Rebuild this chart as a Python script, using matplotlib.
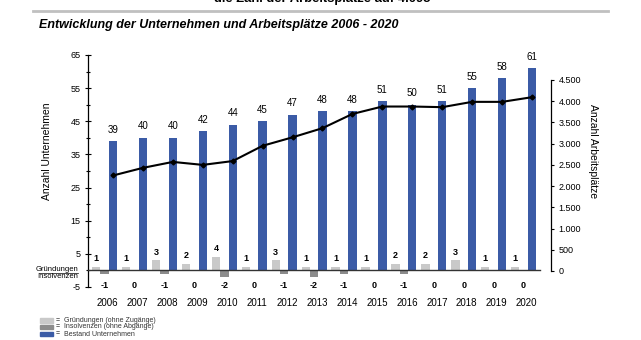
import matplotlib
matplotlib.use("Agg")
import matplotlib.pyplot as plt
from matplotlib.patches import Rectangle
from matplotlib.ticker import FuncFormatter, MultipleLocator

plt.rcParams['font.family'] = ['Liberation Sans', 'DejaVu Sans']
plt.rcParams['axes.unicode_minus'] = False

years = [2006, 2007, 2008, 2009, 2010, 2011, 2012, 2013, 2014, 2015, 2016, 2017, 2018, 2019, 2020]
bestand = [39, 40, 40, 42, 44, 45, 47, 48, 48, 51, 50, 51, 55, 58, 61]
gruendungen = [1, 1, 3, 2, 4, 1, 3, 1, 1, 1, 2, 2, 3, 1, 1]
insolvenzen = [-1, 0, -1, 0, -2, 0, -1, -2, -1, 0, -1, 0, 0, 0, 0]
arbeitsplaetze = [2250, 2430, 2570, 2500, 2590, 2950, 3150, 3365, 3700, 3875, 3875, 3860, 3985, 3985, 4095]

c_blue = '#3b5ba6'
c_light = '#c9c9c9'
c_dark = '#8c8c8c'

W, H = 641, 340
fig = plt.figure(figsize=(W / 100, H / 100), dpi=100)

def fx(px):
    return px / W

def fy(py):
    return 1 - py / H

ax = fig.add_axes([fx(88), fy(287), fx(551) - fx(88), fy(55) - fy(287)])
ax2 = ax.twinx()

x = list(range(len(years)))
w = 0.28
ax.bar([i - w for i in x], gruendungen, width=w, color=c_light, zorder=2)
ax.bar(x, insolvenzen, width=w, color=c_dark, zorder=2)
ax.bar([i + w for i in x], bestand, width=w, color=c_blue, zorder=2)

ax.set_xlim(-0.555, 14.915)
ax.set_ylim(-5, 65)
ax.set_yticks([65, 55, 45, 35, 25, 15, 5, -5])
ax.yaxis.set_minor_locator(MultipleLocator(5))
ax.tick_params(axis='y', which='both', direction='inout', length=5, width=0.8, labelsize=6.5, pad=3)
ax.tick_params(axis='y', which='minor', length=3)
ax.set_xticks([])
for s in ['top', 'bottom', 'right']:
    ax.spines[s].set_visible(False)
ax.spines['left'].set_linewidth(0.9)
ax.plot([-0.555, 14.55], [0, 0], color='#333333', lw=1.0, zorder=3, clip_on=False)

for i in x:
    ax.text(i + w, bestand[i] + 2.0, str(bestand[i]), ha='center', va='bottom', fontsize=7)
    ax.text(i - w, gruendungen[i] + 1.2, str(gruendungen[i]), ha='center', va='bottom', fontsize=6.5, fontweight='bold')
    ax.text(i, -4.6, str(insolvenzen[i]), ha='center', va='center', fontsize=6.5, fontweight='bold')
    ax.text(i + 0.1, -9.8, str(years[i]), ha='center', va='center', fontsize=7, clip_on=False)

ax.set_ylabel('Anzahl Unternehmen', fontsize=7.5)
ax.yaxis.set_label_coords(-0.078, 0.586)

ax2.plot([i + w for i in x], arbeitsplaetze, color='black', lw=1.5, marker='D', markersize=2.5, zorder=5)
ax2.set_ylim(-377, 5089)
ax2.set_yticks(range(0, 5000, 500))
ax2.yaxis.set_major_formatter(FuncFormatter(lambda v, p: f"{int(v):,}".replace(',', '.')))
ax2.tick_params(axis='y', direction='out', length=2.5, width=0.8, labelsize=6.5, pad=3)
for s in ['top', 'bottom', 'left']:
    ax2.spines[s].set_visible(False)
ax2.spines['right'].set_bounds(0, 4500)
ax2.spines['right'].set_linewidth(0.9)
ax2.set_ylabel('Anzahl Arbeitsplätze', fontsize=7.5, rotation=-90, va='center')
ax2.yaxis.set_label_coords(1.0907, 0.586)
ax2.set_zorder(ax.get_zorder() + 1)
ax2.patch.set_visible(False)

# Left-side labels
fig.text(fx(78), fy(269.5), 'Gründungen', ha='right', va='center', fontsize=5.5)
fig.lines.append(plt.Line2D([fx(39), fx(78)], [fy(273), fy(273)], transform=fig.transFigure, color='black', lw=0.5))
fig.text(fx(78), fy(277), 'Insolvenzen', ha='right', va='center', fontsize=5.5)

# Legend
legend_items = [(c_light, 'Gründungen (ohne Zugänge)', 320.5),
                (c_dark, 'Insolvenzen (ohne Abgänge)', 327),
                (c_blue, 'Bestand Unternehmen', 334)]
for col, txt, yy in legend_items:
    fig.patches.append(Rectangle((fx(40), fy(yy + 2.3)), fx(13), fy(yy - 2.3) - fy(yy + 2.3),
                                 transform=fig.transFigure, color=col))
    fig.text(fx(56), fy(yy), '=', ha='left', va='center', fontsize=5)
    fig.text(fx(64.5), fy(yy), txt, ha='left', va='center', fontsize=5, color='#333333')

# Titles
fig.text(fx(322), fy(2.2), 'die Zahl der Arbeitsplätze auf 4.095', ha='center', va='baseline',
         fontsize=9.4, fontweight='bold')
fig.lines.append(plt.Line2D([fx(33), fx(608)], [fy(11), fy(11)], transform=fig.transFigure,
                            color='#c0c0c0', lw=2))
fig.text(fx(39), fy(25), 'Entwicklung der Unternehmen und Arbeitsplätze 2006 - 2020', ha='left', va='center',
         fontsize=9, fontweight='bold', fontstyle='italic')

fig.savefig('out.png', dpi=100)
